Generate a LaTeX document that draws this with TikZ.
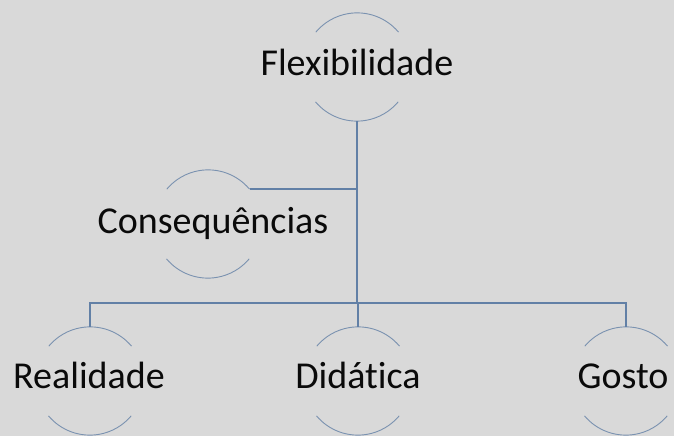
\documentclass[tikz,border=0pt]{standalone}
\usepackage{fontspec}
\setmainfont{Carlito}[RawFeature={-liga}]
\definecolor{bg}{RGB}{217,217,217}
\definecolor{conn}{RGB}{98,128,166}
\definecolor{arcc}{RGB}{122,146,176}
\definecolor{txt}{RGB}{10,10,10}
\begin{document}
\begin{tikzpicture}[x=1pt,y=1pt,
  ring/.style={circle,minimum size=108pt,inner sep=0pt},
  lbl/.style={inner sep=0pt,text=txt,font=\fontsize{38}{45}\selectfont,text height=26pt,text depth=10pt},
  arcline/.style={draw=arcc,line width=0.9pt},
  connline/.style={draw=conn,line width=1.4pt}]
\useasboundingbox (0,0) rectangle (674,436);
\fill[bg] (0,0) rectangle (674,436);
% circle nodes
\node[ring] (F) at (357,369) {};
\node[ring] (C) at (208,212) {};
\node[ring] (R) at (90,55) {};
\node[ring] (D) at (358,55) {};
\node[ring] (G) at (626,55) {};
% labels
\node[lbl] (Ft) at ([yshift=-1pt]F.center) {Flexibilidade};
\node[lbl] (Ct) at ([xshift=5pt,yshift=-2pt]C.center) {Consequências};
\node[lbl] (Rt) at ([xshift=-1pt]R.center) {Realidade};
\node[lbl] (Dt) at (D.center) {Didática};
\node[lbl] (Gt) at ([xshift=-3pt]G.center) {Gosto};
% arcs
\foreach \n in {F,C,R,D,G}{
  \draw[arcline] (\n.40) arc[start angle=40,end angle=140,radius=54pt];
  \draw[arcline] (\n.220) arc[start angle=220,end angle=320,radius=54pt];
}
% connectors
\coordinate (bus) at (357,133);
\draw[connline] (F.south) -- (bus);
\draw[connline] (C.40) -- (C.40 -| F.south);
\draw[connline] (R.north) -- (R.north |- bus) -- (G.north |- bus) -- (G.north);
\draw[connline] (D.north) -- (D.north |- bus);
\end{tikzpicture}
\end{document}
